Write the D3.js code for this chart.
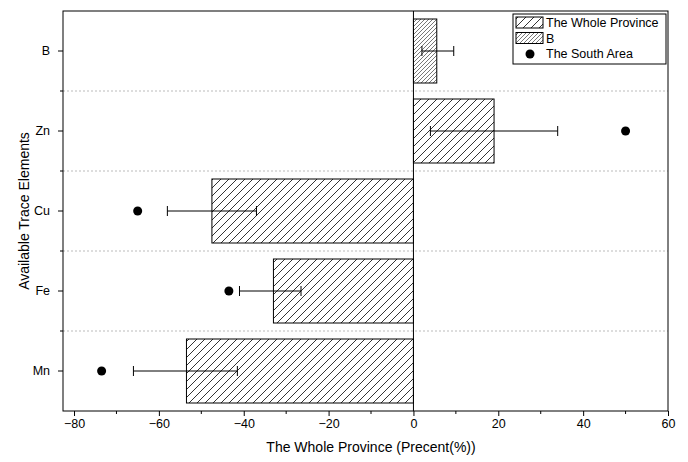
<!DOCTYPE html><html><head><script src="https://cdn.jsdelivr.net/npm/d3@7"></script>
<style>body{margin:0;background:#fff}text{font-family:Arial,"Liberation Sans",sans-serif}</style></head><body>
<svg id="c" width="688" height="462"></svg>
<script>
const categories=["B","Zn","Cu","Fe","Mn"];
const wholeProvince=[5.5,19,-47.5,-33,-53.5];
const errLow=[2,4,-58,-41,-66];
const errHigh=[9.5,34,-37,-26.5,-41.5];
const southArea=[null,50,-65,-43.5,-73.5];
const xTicks=[-80,-60,-40,-20,0,20,40,60];
const svg=d3.select("#c");
const L=63,R=668,T=11,B=411;
const x=d3.scaleLinear().domain([-82.6,60]).range([L,R]);
const y=d3.scaleBand().domain(categories).range([T,B]).paddingInner(0.2).paddingOuter(0.1);
const defs=svg.append("defs");
function pat(id,sz,col){const p=defs.append("pattern").attr("id",id).attr("patternUnits","userSpaceOnUse").attr("width",sz).attr("height",sz);
p.append("rect").attr("width",sz).attr("height",sz).attr("fill","#fff");
p.append("path").attr("d",`M0,${sz} L${sz},0 M${-sz/2},${sz/2} L${sz/2},${-sz/2} M${sz/2},${sz*1.5} L${sz*1.5},${sz/2}`).attr("stroke",col).attr("stroke-width",0.8);}
pat("h1",8,"#000");pat("h2",4,"#555");
const step=y.step();
const mids=categories.slice(1).map(c=>y(c)-y.paddingInner()*step/2);
mids.forEach(yy=>svg.append("line").attr("x1",L).attr("x2",R).attr("y1",yy).attr("y2",yy).attr("stroke","#bbb").attr("stroke-dasharray","2,2"));
svg.selectAll(".bar").data(categories).join("rect").attr("x",(c,i)=>x(Math.min(0,wholeProvince[i]))).attr("y",c=>y(c))
.attr("width",(c,i)=>Math.abs(x(wholeProvince[i])-x(0))).attr("height",y.bandwidth())
.attr("fill",(c,i)=>i==0?"url(#h2)":"url(#h1)").attr("stroke","#000").attr("stroke-width",1);
categories.forEach((c,i)=>{const cy=y(c)+y.bandwidth()/2;
svg.append("line").attr("x1",x(errLow[i])).attr("x2",x(errHigh[i])).attr("y1",cy).attr("y2",cy).attr("stroke","#000");
[errLow[i],errHigh[i]].forEach(v=>svg.append("line").attr("x1",x(v)).attr("x2",x(v)).attr("y1",cy-5).attr("y2",cy+5).attr("stroke","#000"));
if(southArea[i]!=null)svg.append("circle").attr("cx",x(southArea[i])).attr("cy",cy).attr("r",4.5).attr("fill","#000");});
svg.append("rect").attr("x",L).attr("y",T).attr("width",R-L).attr("height",B-T).attr("fill","none").attr("stroke","#000");
svg.append("line").attr("x1",x(0)).attr("x2",x(0)).attr("y1",T).attr("y2",B).attr("stroke","#000");
const xa=svg.append("g").attr("transform",`translate(0,${B})`).call(d3.axisBottom(x).tickValues(xTicks).tickFormat(d=>d<0?"\u2212"+(-d):d).tickSize(5).tickSizeOuter(0));
xa.select(".domain").remove();xa.selectAll("text").attr("font-size",12.5).attr("fill","#000");
d3.range(-70,60,20).forEach(v=>svg.append("line").attr("x1",x(v)).attr("x2",x(v)).attr("y1",B).attr("y2",B+3).attr("stroke","#000"));
const ya=svg.append("g").attr("transform",`translate(${L},0)`).call(d3.axisLeft(y).tickSize(5).tickSizeOuter(0));
ya.select(".domain").remove();ya.selectAll("text").attr("font-size",12.5).attr("fill","#000").attr("dx",-5);
mids.forEach(yy=>svg.append("line").attr("x1",L-3).attr("x2",L).attr("y1",yy).attr("y2",yy).attr("stroke","#000"));
svg.append("text").attr("x",x(-10)).attr("y",452).attr("text-anchor","middle").attr("font-size",14).text("The Whole Province (Precent(%))");
svg.append("text").attr("transform",`translate(29,${(T+B)/2}) rotate(-90)`).attr("text-anchor","middle").attr("font-size",14).text("Available Trace Elements");
const lg=svg.append("g").attr("transform","translate(513,14)");
lg.append("rect").attr("width",153).attr("height",50).attr("fill","#fff").attr("stroke","#000");
const items=[["The Whole Province","url(#h1)"],["B","url(#h2)"],["The South Area",null]];
items.forEach((it,i)=>{const yy=3+i*15.5;
if(it[1])lg.append("rect").attr("x",3).attr("y",yy).attr("width",27).attr("height",11).attr("fill",it[1]).attr("stroke","#000");
else lg.append("circle").attr("cx",17).attr("cy",yy+6).attr("r",4.5);
lg.append("text").attr("x",33).attr("y",yy+10).attr("font-size",12.5).text(it[0]);});
</script></body></html>
